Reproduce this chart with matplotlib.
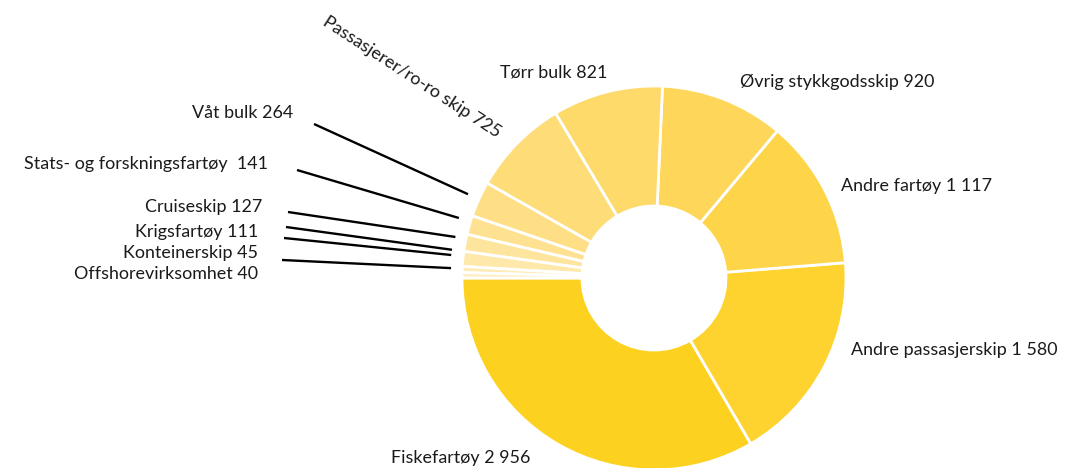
import numpy as np
import matplotlib
matplotlib.use("Agg")
import matplotlib.pyplot as plt

plt.rcParams['font.family'] = ['Lato', 'DejaVu Sans']

categories = ["Fiskefartøy", "Andre passasjerskip", "Andre fartøy", "Øvrig stykkgodsskip",
              "Tørr bulk", "Passasjerer/ro-ro skip", "Våt bulk", "Stats- og forskningsfartøy ",
              "Cruiseskip", "Krigsfartøy", "Konteinerskip", "Offshorevirksomhet"]
values = [2956, 1580, 1117, 920, 821, 725, 264, 141, 127, 111, 45, 40]
value_labels = ["2 956", "1 580", "1 117", "920", "821", "725", "264", "141", "127", "111", "45", "40"]
colors = ["#FDD11F", "#FED330", "#FED549", "#FED75A", "#FEDA6B", "#FEDC78",
          "#FEDF85", "#FEE292", "#FEE59E", "#FEE8AA", "#FEEBB6", "#FEEEC2"]

W, H = 1068, 468
fig = plt.figure(figsize=(W / 100, H / 100), dpi=100)
ax = fig.add_axes([0, 0, 1, 1])

cx, cy = 654, H - 278
R = 192
wedges, _ = ax.pie(values, colors=colors, startangle=180, counterclock=True,
                   center=(cx, cy), radius=R, frame=True,
                   wedgeprops=dict(width=R - 72, edgecolor='white', linewidth=2))
ax.set_xlim(0, W)
ax.set_ylim(0, H)
ax.set_aspect('equal')
ax.axis('off')

# label layout: (x, y in pixel-from-top, ha, rotation, leader start or None)
layout = [
    (391, 458, 'left', 0, None),
    (851, 350, 'left', 0, None),
    (841, 186, 'left', 0, None),
    (740, 82, 'left', 0, None),
    (554, 73, 'center', 0, None),
    (412, 77, 'center', -33, None),
    (293, 113, 'right', 0, (314, 124)),
    (268, 164, 'right', 0, (297, 170)),
    (262, 207, 'right', 0, (288, 212)),
    (258, 232, 'right', 0, (286, 227)),
    (258, 253, 'right', 0, (284, 238)),
    (258, 274, 'right', 0, (282, 260)),
]
leader_r = [None] * 6 + [204, 203, 202, 203, 203, 203]
leader_dy = [None] * 6 + [0, 4, 4, 8, 14, 7]

total = sum(values)
cum = np.cumsum([0] + values[:-1])
for i, (cat, vl) in enumerate(zip(categories, value_labels)):
    x, y, ha, rot, start = layout[i]
    ax.text(x, H - y, f"{cat} {vl}", ha=ha, va='center', rotation=rot,
            fontsize=12.9, color='#1a1a1a', rotation_mode='anchor')
    if start is not None:
        mid = np.deg2rad(180 + (cum[i] + values[i] / 2) / total * 360)
        r = leader_r[i]
        ex = cx + r * np.cos(mid)
        ey = cy + r * np.sin(mid) + leader_dy[i]
        ax.plot([start[0], ex], [H - start[1], ey], color='black', lw=1.7,
                solid_capstyle='butt')

fig.savefig("out.png", dpi=100)
